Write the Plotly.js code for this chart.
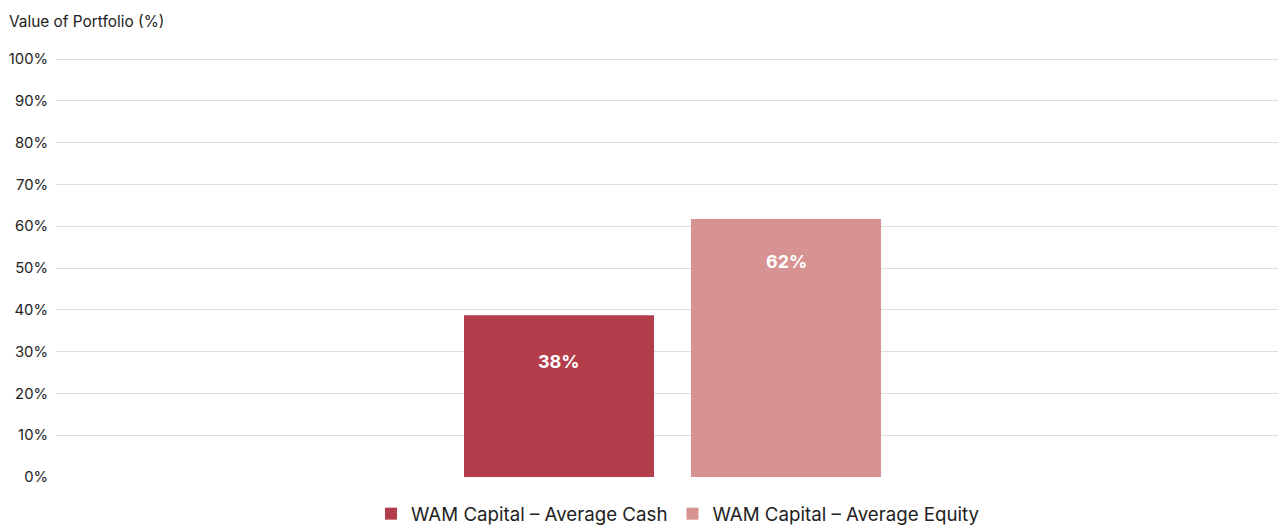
<!DOCTYPE html>
<html>
<head>
<meta charset="utf-8">
<script src="https://cdn.plot.ly/plotly-3.0.1.min.js"></script>
<style>html,body{margin:0;padding:0;background:#fff;}#chart{width:1278px;height:527px;}</style>
</head>
<body>
<div id="chart"></div>
<script>
const categories = ["Portfolio"];
const seriesNames = ["WAM Capital \u2013 Average Cash", "WAM Capital \u2013 Average Equity"];
const cashValues = [38.7];
const equityValues = [61.7];
const valueLabels = [["38%"], ["62%"]];
const yTickVals = [0, 10, 20, 30, 40, 50, 60, 70, 80, 90, 100];
const yTickText = ["0%", "10%", "20%", "30%", "40%", "50%", "60%", "70%", "80%", "90%", "100%"];
const colors = ["#B43D4C", "#D79292"];

const font = "Inter, Roboto, sans-serif";
const series = [cashValues, equityValues];

const traces = series.map((vals, i) => ({
  type: "bar",
  name: seriesNames[i],
  x: categories,
  y: vals,
  marker: {color: colors[i]},
  hoverinfo: "skip"
}));

const barShift = [-113.5, 113.5];
const labelShift = [-46, -42];
const annotations = [];
series.forEach((vals, i) => {
  vals.forEach((v, j) => {
    annotations.push({
      x: categories[j], y: v, xref: "x", yref: "y",
      text: "<b>" + valueLabels[i][j] + "</b>",
      showarrow: false, xshift: barShift[i], yshift: labelShift[i],
      yanchor: "middle",
      font: {family: font, size: 18, color: "#ffffff"}
    });
  });
});

const layout = {
  width: 1278, height: 527,
  margin: {l: 56, r: 0, t: 57, b: 50, autoexpand: false},
  paper_bgcolor: "#ffffff", plot_bgcolor: "#ffffff",
  font: {family: font, color: "#222222"},
  title: {
    text: "Value of Portfolio (%)",
    font: {family: font, size: 15.4, color: "#222222"},
    x: 9 / 1278, xanchor: "left", xref: "container",
    y: 1 - 22 / 527, yanchor: "middle", yref: "container"
  },
  barmode: "group",
  bargap: 0.6285,
  bargroupgap: 0.163,
  xaxis: {
    type: "category",
    range: [-0.5045, 0.4955],
    showticklabels: false, showgrid: false, zeroline: false, showline: false, ticks: ""
  },
  yaxis: {
    range: [0, 100.48],
    tickvals: yTickVals, ticktext: yTickText,
    tickfont: {family: font, size: 14.8, color: "#222222"},
    showgrid: true, gridcolor: "#dedede", gridwidth: 1,
    zeroline: false, showline: false, ticks: "",
    ticklabelstandoff: 7
  },
  showlegend: true,
  legend: {
    orientation: "h",
    x: 678 / 1278, xanchor: "center", xref: "container",
    y: 13 / 527, yanchor: "middle", yref: "container",
    font: {family: font, size: 18.7, color: "#222222"},
    itemwidth: 30,
    traceorder: "normal"
  },
  annotations: annotations
};

Plotly.newPlot("chart", traces, layout, {displayModeBar: false, staticPlot: true});
</script>
</body>
</html>
